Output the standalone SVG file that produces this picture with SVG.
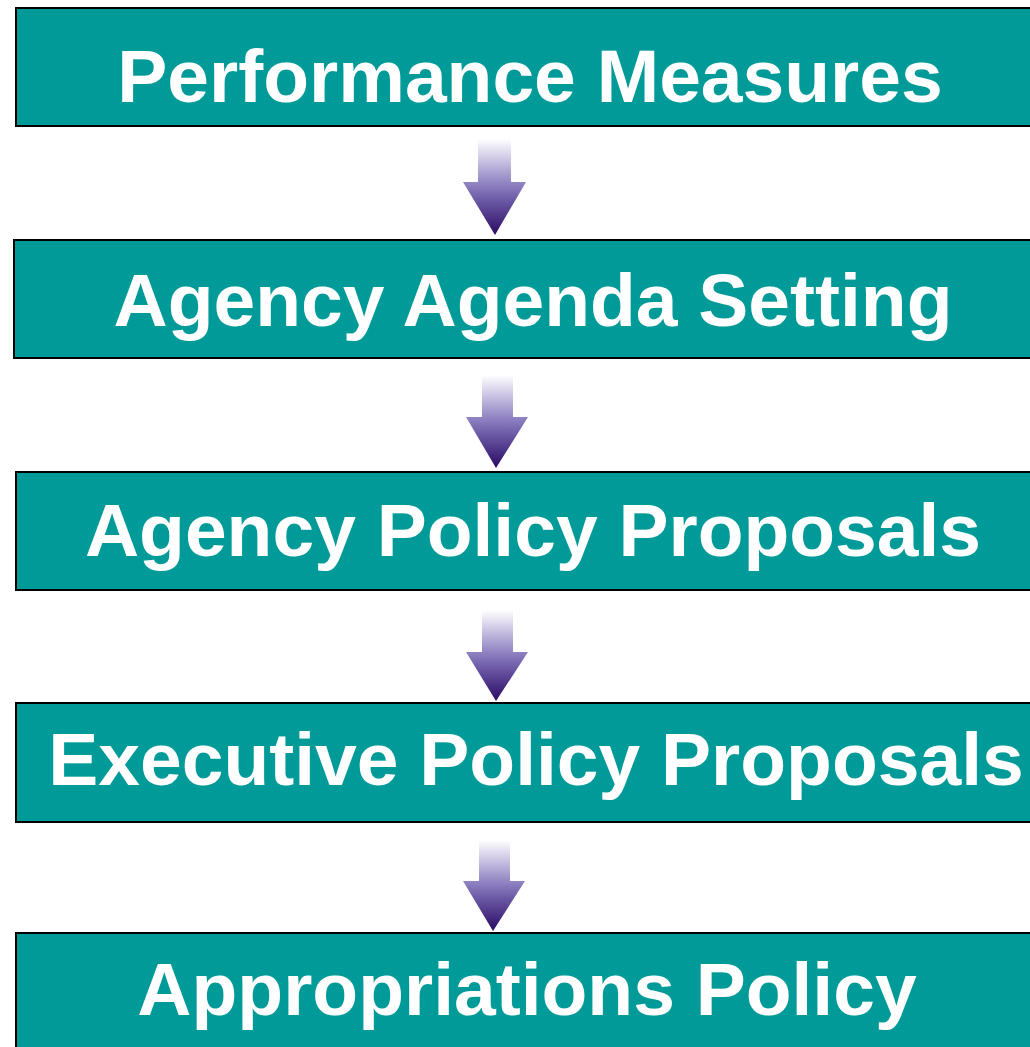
<svg xmlns="http://www.w3.org/2000/svg" width="1030" height="1047" viewBox="0 0 1030 1047">
  <style>
    .box { fill: #009B98; stroke: #000000; stroke-width: 2; }
    .label { font-family: "Liberation Sans", Arial, sans-serif; font-weight: bold; font-size: 75px; fill: #FFFFFF; text-anchor: middle; }
    .arrow { fill: url(#arrowFill); stroke: none; }
  </style>
  <defs>
    <linearGradient id="arrowFill" x1="0" y1="0" x2="0" y2="1">
      <stop offset="0" stop-color="#FFFFFF"/>
      <stop offset="0.15" stop-color="#DCD7EC"/>
      <stop offset="0.45" stop-color="#9386C4"/>
      <stop offset="0.6" stop-color="#7362AC"/>
      <stop offset="1" stop-color="#2A0A64"/>
    </linearGradient>
  </defs>
  <rect width="1030" height="1047" fill="#FFFFFF"/>

  <g id="connectors">
    <polygon class="arrow" points="478,139 511,139 511,182 526,182 495,235 463,182 478,182"/>
    <polygon class="arrow" points="482,375 513,375 513,417 528,417 496,468 466,417 482,417"/>
    <polygon class="arrow" points="482,610 513,610 513,652 528,652 496,701 466,652 482,652"/>
    <polygon class="arrow" points="479,840 510,840 510,881 525,881 493,931 463,881 479,881"/>
  </g>

  <g id="performance-measures">
    <rect class="box" x="16" y="8" width="1040" height="118"/>
    <text class="label" x="530" y="102">Performance Measures</text>
  </g>
  <g id="agency-agenda-setting">
    <rect class="box" x="14" y="240" width="1040" height="118"/>
    <text class="label" x="533" y="326">Agency Agenda Setting</text>
  </g>
  <g id="agency-policy-proposals">
    <rect class="box" x="16" y="472" width="1040" height="118"/>
    <text class="label" x="533" y="556">Agency Policy Proposals</text>
  </g>
  <g id="executive-policy-proposals">
    <rect class="box" x="16" y="703" width="1040" height="119"/>
    <text class="label" x="536" y="785">Executive Policy Proposals</text>
  </g>
  <g id="appropriations-policy">
    <rect class="box" x="16" y="933" width="1040" height="130"/>
    <text class="label" x="527" y="1015">Appropriations Policy</text>
  </g>
</svg>
